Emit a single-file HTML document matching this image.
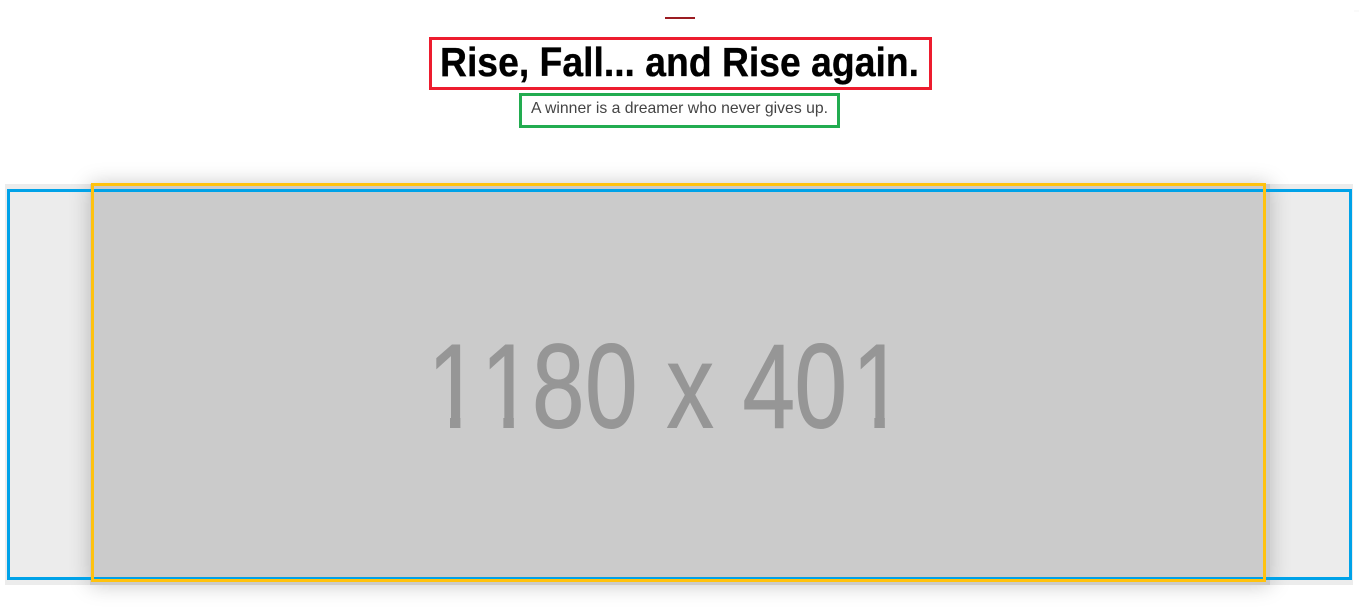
<!DOCTYPE html>
<html lang="en">
<head>
<meta charset="utf-8">
<title>Rise, Fall... and Rise again.</title>
<style>
  html, body { margin: 0; padding: 0; background: #fff; }
  body { position: relative; width: 1360px; height: 612px; overflow: hidden; font-family: "Liberation Sans", sans-serif; }
  .abs { position: absolute; box-sizing: border-box; }
  svg { position: absolute; left: 0; top: 0; }
</style>
</head>
<body>
  <div class="abs" style="left:1354px;top:10px;width:5px;height:2px;background:#fafafa;"></div>
  <div class="abs" style="left:665px;top:17px;width:30px;height:2px;background:#9b1c22;"></div>
  <div class="abs" style="left:429px;top:37px;width:503px;height:53px;border:3px solid #ed1c2e;"></div>
  <div class="abs" style="left:519px;top:93px;width:321px;height:35px;border:3px solid #22ac50;"></div>
  <div class="abs" style="left:5px;top:184px;width:1348px;height:401px;background:#ececec;"></div>
  <div class="abs" style="left:90px;top:184px;width:1180px;height:401px;background:#cbcbcb;box-shadow:0 0 20px rgba(0,0,0,.22);"></div>
  <div class="abs" style="left:7px;top:189px;width:1345px;height:391px;border:3px solid #00a2e8;"></div>
  <div class="abs" style="left:91px;top:183px;width:1175px;height:399px;border:3px solid #ffc20e;"></div>
  <svg width="1360" height="612" viewBox="0 0 1360 612">
    <defs>
      <clipPath id="no-feet" clipPathUnits="userSpaceOnUse">
        <rect x="400" y="320" width="520" height="96"></rect>
        <rect x="450" y="416" width="10.4" height="23"></rect>
        <rect x="503.4" y="416" width="10.4" height="23"></rect>
        <rect x="534" y="416" width="318" height="23"></rect>
        <rect x="874.4" y="416" width="10.4" height="23"></rect>
      </clipPath>
    </defs>
    <text x="440" y="76" font-family="'Liberation Sans', sans-serif" font-weight="700" font-size="41" fill="#000" stroke="#000" stroke-width="0.35" textLength="479" lengthAdjust="spacingAndGlyphs">Rise, Fall... and Rise again.</text>
    <text x="531" y="113" font-family="'Liberation Sans', sans-serif" font-size="16" fill="#444" textLength="297" lengthAdjust="spacingAndGlyphs">A winner is a dreamer who never gives up.</text>
    <g clip-path="url(#no-feet)">
      <text transform="translate(427 427.6) scale(0.79 1)" x="0.8 68.4 132.9 200 270 303.2 370 399.4 465.2 538" y="0" font-family="'Liberation Sans', sans-serif" font-size="119.6" fill="#969696" stroke="#969696" stroke-width="1">1180 x 401</text>
    </g>
  </svg>
</body>
</html>
